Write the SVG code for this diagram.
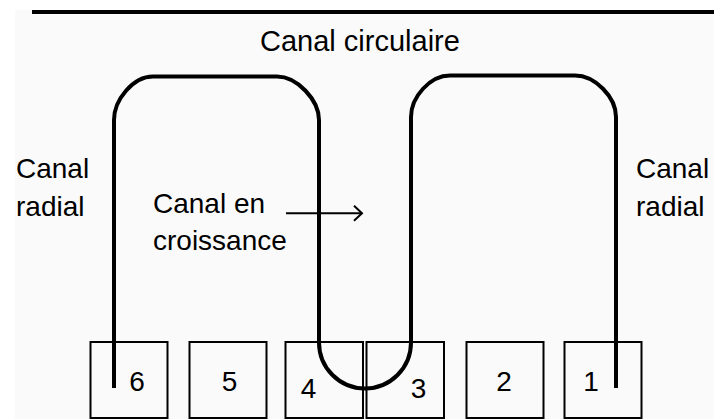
<svg xmlns="http://www.w3.org/2000/svg" width="714" height="419" viewBox="0 0 714 419">
  <style>
    .lbl { font-family: "Liberation Sans", Arial, sans-serif; font-size: 28px; fill: #000; }
    .num { font-family: "Liberation Sans", Arial, sans-serif; font-size: 28px; fill: #000; text-anchor: middle; }
    .box { fill: none; stroke: #000; stroke-width: 2; }
    .chan { fill: none; stroke: #000; stroke-width: 4; stroke-linejoin: round; }
    .arrow { fill: none; stroke: #000; stroke-width: 2; }
  </style>
  <defs>
    <marker id="chev" markerUnits="userSpaceOnUse" markerWidth="12" markerHeight="18" refX="9" refY="8" orient="auto">
      <path d="M1,0.5 L9,8 L1,15.5" fill="none" stroke="#000" stroke-width="2"/>
    </marker>
  </defs>
  <rect x="0" y="0" width="714" height="419" fill="#ffffff"/>
  <rect x="15" y="10" width="699" height="409" fill="#fafafa"/>

  <g id="top-rule">
    <line x1="32" y1="12" x2="714" y2="12" stroke="#000" stroke-width="4"/>
  </g>

  <g id="title">
    <text class="lbl" x="260" y="51" style="font-size:29px">Canal circulaire</text>
  </g>
  <g id="label-radial-left">
    <text class="lbl" x="16" y="178">Canal</text>
    <text class="lbl" x="16" y="216">radial</text>
  </g>
  <g id="label-radial-right">
    <text class="lbl" x="636" y="178">Canal</text>
    <text class="lbl" x="636" y="216">radial</text>
  </g>
  <g id="label-croissance">
    <text class="lbl" x="153" y="213">Canal en</text>
    <text class="lbl" x="153" y="250">croissance</text>
  </g>

  <g id="box6"><rect class="box" x="90.5" y="342" width="77" height="76"/><text class="num" x="137" y="391">6</text></g>
  <g id="box5"><rect class="box" x="189.5" y="342" width="77" height="76"/><text class="num" x="229.5" y="391">5</text></g>
  <g id="box4"><rect class="box" x="285.5" y="342" width="77.5" height="76"/><text class="num" x="308.5" y="397.5">4</text></g>
  <g id="box3"><rect class="box" x="366.5" y="342" width="77.5" height="76"/><text class="num" x="418.5" y="397.5">3</text></g>
  <g id="box2"><rect class="box" x="466.5" y="342" width="77" height="76"/><text class="num" x="504" y="391">2</text></g>
  <g id="box1"><rect class="box" x="564.5" y="342" width="77" height="76"/><text class="num" x="591" y="391">1</text></g>

  <g id="connectors">
    <path class="chan" d="M114,388 V120 C114,100 133,76.5 153,76.5 H277 C297,76.5 319,100 319,120 V342.5 A46,46 0 0 0 411,342.5 V117 C411,97 430,75.5 450,75.5 H575 C595,75.5 616,97 616,117 V388"/>
    <line class="arrow" x1="286" y1="213.3" x2="362" y2="213.3" marker-end="url(#chev)"/>
  </g>
</svg>
